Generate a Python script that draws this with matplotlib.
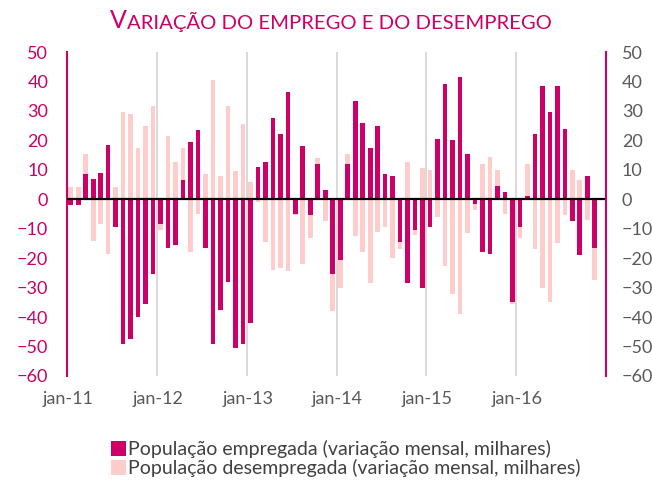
import matplotlib
matplotlib.use("Agg")
import matplotlib.pyplot as plt
import numpy as np

plt.rcParams['font.family'] = ['Lato', 'DejaVu Sans']

# ---- data -------------------------------------------------------------
years = [11, 12, 13, 14, 15, 16]
tick_labels = [f"jan-{y}" for y in years]

empregada = [
    -2, -2, 8.5, 7, 9, 18.5, -9.5, -49, -47.5, -40, -35.5, -25.5,
    -8.5, -16.5, -15.5, 6.5, 19.5, 23.5, -16.5, -49, -37.5, -28, -50.5, -49,
    -42, 11, 12.5, 27.5, 22, 36.5, -5, 18, -5.5, 12, 3, -25.5,
    -20.5, 12, 33.5, 26, 17.5, 25, 8.5, 8, -14.5, -28.5, -10.5, -30,
    -9.5, 20.5, 39, 20, 41.5, 15.5, -1.5, -18, -18.5, 4.5, 2.5, -35,
    -9.5, 1, 22, 38.5, 29.5, 38.5, 24, -7.5, -19, 8, -16.5,
]
desempregada = [
    4, 4, 15.5, -14, -8.5, -18.5, 4, 29.5, 29, 17.5, 25, 31.5,
    -10.5, 21.5, 12.5, 17.5, -18, -5, 8.5, 40.5, 8, 31.5, 9.5, 25.5,
    6, -1, -14.5, -24, -23.5, -24.5, -5.5, -22, -13, 14, -7.5, -38,
    -30, 15.5, -12.5, -18, -28.5, -11, -9.5, -20, -17, 12.5, -12, 10.5,
    10, -6, -22.5, -32, -39, -11.5, -3.5, 12, 14.5, 10, -5, -35.5,
    -13, 12, -17, -30, -35, -15, -5.5, 10, 6.5, -7, -27.5,
]
label_emp = "População empregada (variação mensal, milhares)"
label_des = "População desempregada (variação mensal, milhares)"
title_first = "V"
title_rest = "ARIAÇÃO DO EMPREGO E DO DESEMPREGO"

# ---- style ------------------------------------------------------------
DARK = "#CC0066"
LIGHT = "#FFCCCC"
GRAY_TXT = "#595959"
n_months = len(years) * 12

fig = plt.figure(figsize=(6.52, 4.86), dpi=100)
ax = fig.add_axes([67 / 652, 1 - 376 / 486, (606 - 67) / 652, (376 - 52) / 486])

x = np.arange(len(empregada))
w = 0.62
b_des = ax.bar(x, desempregada, width=w, color=LIGHT, zorder=2, label=label_des)
b_emp = ax.bar(x, empregada, width=w, color=DARK, zorder=3, label=label_emp)

ax.set_xlim(-0.5, n_months - 0.5)
ax.set_ylim(-60, 50)
ax.set_yticks(np.arange(-60, 51, 10))
ax.axhline(0, color="black", lw=1.6, zorder=4)

for k in range(1, len(years)):
    ax.axvline(12 * k - 0.5, color="#D9D9D9", lw=1.4, zorder=1)

ax.set_xticks([12 * k - 0.35 for k in range(len(years))])
ax.set_xticklabels(tick_labels)
ax.tick_params(axis="x", length=0, pad=11, labelsize=13, labelcolor=GRAY_TXT)
ax.tick_params(axis="y", length=0, pad=13.5, labelsize=13, labelcolor=DARK)

for s in ["top", "bottom", "right"]:
    ax.spines[s].set_visible(False)
ax.spines["left"].set_color(DARK)
ax.spines["left"].set_linewidth(1.5)

ax2 = ax.twinx()
ax2.set_ylim(-60, 50)
ax2.set_yticks(np.arange(-60, 51, 10))
ax2.tick_params(axis="y", length=0, pad=11.5, labelsize=13, labelcolor=GRAY_TXT)
for s in ["top", "bottom", "left"]:
    ax2.spines[s].set_visible(False)
ax2.spines["right"].set_color(DARK)
ax2.spines["right"].set_linewidth(1.5)

# ---- title (small caps imitation) --------------------------------------
t1 = fig.text(110 / 652, 1 - 28.5 / 486, title_first, fontsize=18, color=DARK,
              ha="left", va="baseline")
fig.canvas.draw()
r = fig.canvas.get_renderer()
bb = t1.get_window_extent(r)
fig.text((bb.x1 + 0.5) / 652, 1 - 28.5 / 486, title_rest, fontsize=14.6, color=DARK,
         ha="left", va="baseline")

# ---- legend ------------------------------------------------------------
leg = fig.legend(handles=[b_emp, b_des], labels=[label_emp, label_des],
                 loc="upper left", bbox_to_anchor=(111 / 652, 1 - 440 / 486),
                 frameon=False, fontsize=14, handlelength=0.78, handleheight=0.78,
                 handletextpad=0.1, labelspacing=0.05, borderpad=0, borderaxespad=0)
for t in leg.get_texts():
    t.set_color("#404040")

fig.savefig("out.png", dpi=100)
